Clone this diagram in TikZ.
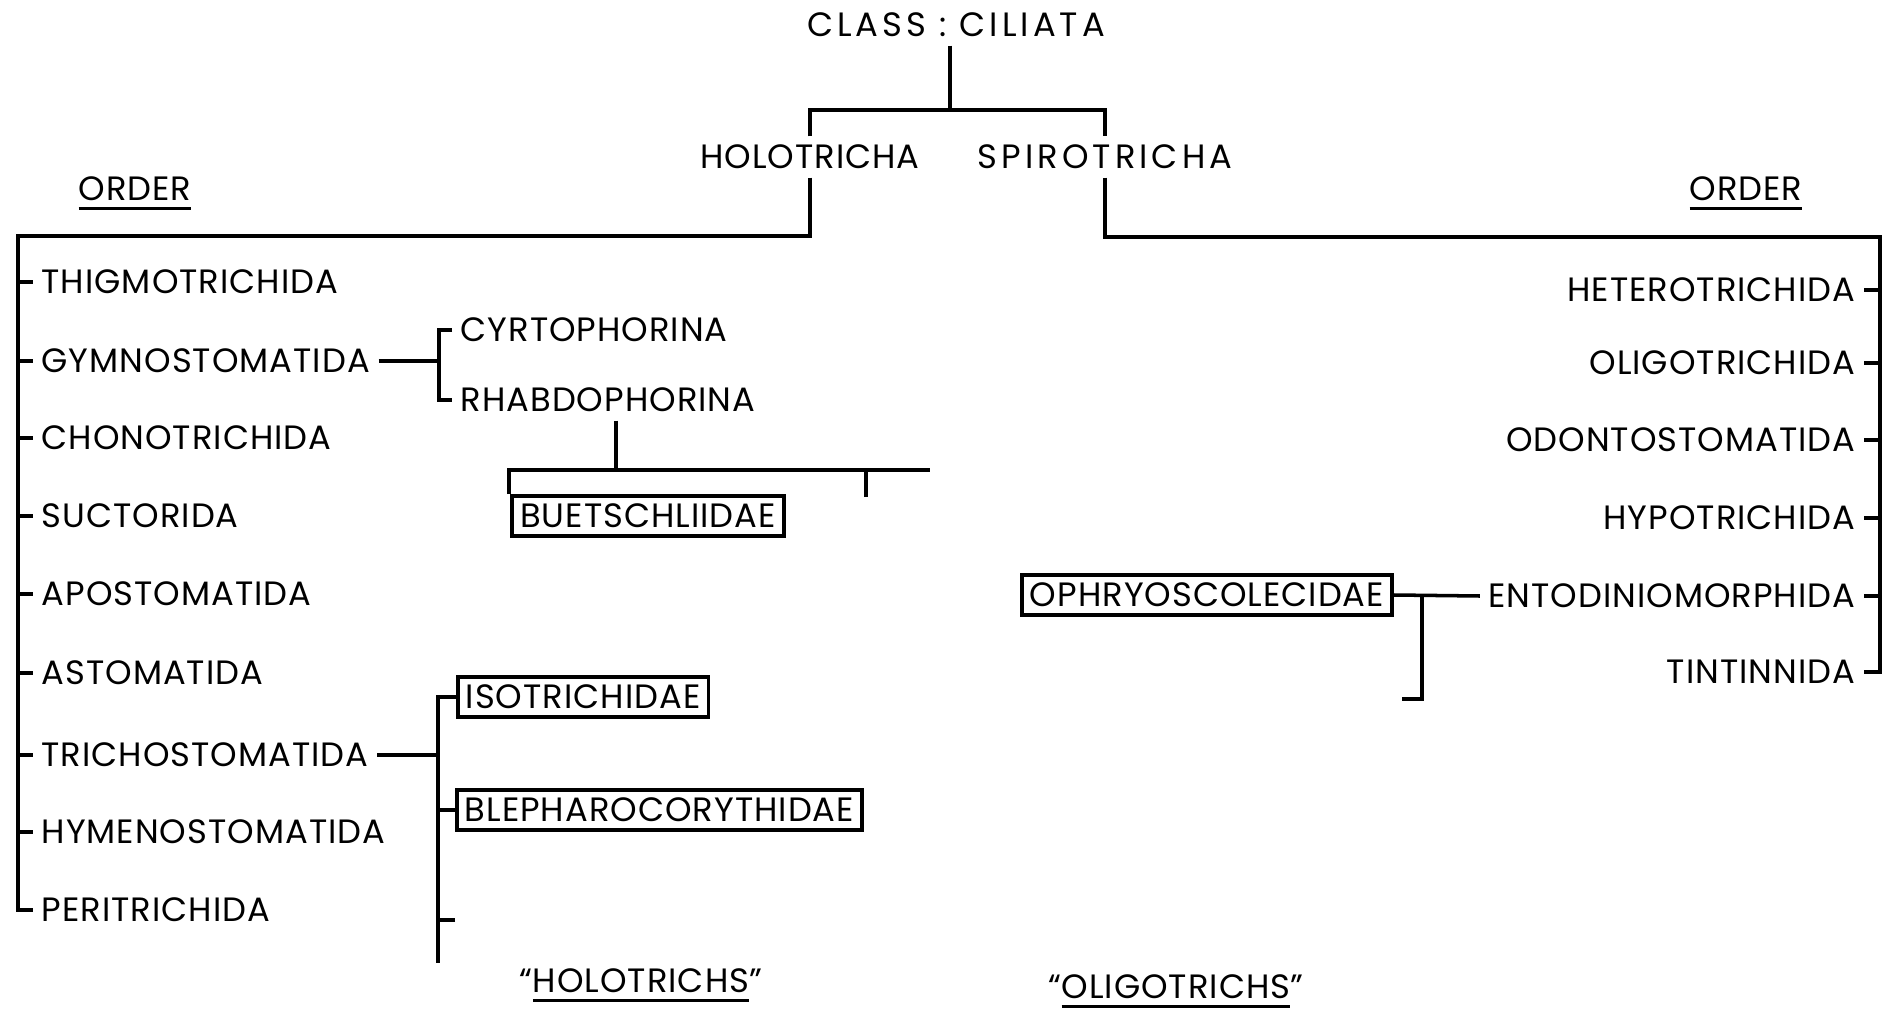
\documentclass[tikz,border=0pt]{standalone}
\usepackage{fontspec}
\setmainfont{Poppins}[LetterSpace=3]
\usetikzlibrary{positioning}
\newcommand{\lowul}[1]{\leavevmode\vtop{\hbox{#1}\kern1.8pt\hrule height 0.9pt}}

\begin{document}
\begin{tikzpicture}[
    x=0.01cm, y=-0.01cm,
    font=\fontsize{9.6}{11}\selectfont,
    txt/.style={inner sep=0.08cm},
    wide/.style={txt, font=\fontsize{9.6}{11}\selectfont\addfontfeatures{LetterSpace=12}},
    lft/.style={txt, anchor=west},
    rgt/.style={txt, anchor=east},
    fam/.style={draw, line width=1pt, inner sep=0.08cm},
    ln/.style={line width=1pt}
]
\useasboundingbox (0,0) rectangle (1887,1009);

% Class and subclasses
\node[wide] (class) at (956,25) {CLASS : CILIATA};
\node[txt] (holo) at (810,157) {HOLOTRICHA};
\node[wide] (spiro) at (1105,157) {SPIROTRICHA};
\coordinate (ctop) at (950,110);
\draw[ln] (ctop |- class.south) -- (ctop);
\draw[ln] (holo.north) |- (ctop) -| (spiro.north);

% Order headings
\node[txt, anchor=base] (ordL) at (135,200) {\lowul{ORDER}};
\node[txt, anchor=base] (ordR) at (1746,200) {\lowul{ORDER}};

% Holotrich orders
\node[lft] (thig) at (33,282) {THIGMOTRICHIDA};
\node[lft] (gymno) at (33,361) {GYMNOSTOMATIDA};
\node[lft] (chono) at (33,438) {CHONOTRICHIDA};
\node[lft] (suct) at (33,516) {SUCTORIDA};
\node[lft] (apost) at (33,594) {APOSTOMATIDA};
\node[lft] (astom) at (33,673) {ASTOMATIDA};
\node[lft] (trichos) at (33,755) {TRICHOSTOMATIDA};
\node[lft] (hymen) at (33,832) {HYMENOSTOMATIDA};
\node[lft] (perit) at (33,910) {PERITRICHIDA};
\coordinate (lbar) at (18,236);
\draw[ln] (holo.south) |- (lbar) -- (lbar |- perit.west) -- (perit.west);
\foreach \n in {thig,gymno,chono,suct,apost,astom,trichos,hymen}
    \draw[ln] (lbar |- \n.west) -- (\n.west);

% Spirotrich orders
\node[rgt] (hetero) at (1864,290) {HETEROTRICHIDA};
\node[rgt] (oligo) at (1864,363) {OLIGOTRICHIDA};
\node[rgt] (odonto) at (1864,440) {ODONTOSTOMATIDA};
\node[rgt] (hypo) at (1864,518) {HYPOTRICHIDA};
\node[rgt] (entod) at (1864,596) {ENTODINIOMORPHIDA};
\node[rgt] (tintin) at (1864,672) {TINTINNIDA};
\coordinate (rbar) at (1880,237);
\draw[ln] (spiro.south) |- (rbar) -- (rbar |- tintin.east) -- (tintin.east);
\foreach \n in {hetero,oligo,odonto,hypo,entod}
    \draw[ln] (rbar |- \n.east) -- (\n.east);

% Gymnostomatida suborders
\node[lft] (cyrto) at (452,330) {CYRTOPHORINA};
\node[lft] (rhabdo) at (452,400) {RHABDOPHORINA};
\coordinate (gbr) at (439,361);
\draw[ln] (gymno.east) -- (gbr);
\draw[ln] (cyrto.west) -| (gbr) |- (rhabdo.west);

% Buetschliidae
\node[fam] (buet) at (648,516) {BUETSCHLIIDAE};
\coordinate (rb) at (616,470);
\coordinate (rbL) at (509,470);
\coordinate (rbR) at (930,470);
\coordinate (rbT) at (866,497);
\draw[ln] (rb |- rhabdo.south) -- (rb);
\draw[ln] (rbL |- buet.north) -- (rbL) -- (rbR);
\draw[ln] (rbT) -- (rbT |- rbR);

% Trichostomatida families
\node[fam, anchor=west] (isot) at (456,697) {ISOTRICHIDAE};
\node[fam, anchor=west] (bleph) at (455,810) {BLEPHAROCORYTHIDAE};
\coordinate (tbr) at (438,755);
\coordinate (tbot) at (438,963);
\coordinate (ttk) at (455,920);
\draw[ln] (trichos.east) -- (tbr);
\draw[ln] (isot.west) -| (tbot);
\draw[ln] (bleph.west) -- (bleph.west -| tbot);
\draw[ln] (ttk) -- (ttk -| tbot);

% Ophryoscolecidae
\node[fam] (ophry) at (1207,595) {OPHRYOSCOLECIDAE};
\coordinate (obr) at (1422,699);
\coordinate (oend) at (1402,699);
\draw[ln] (ophry.east) -- (entod.west);
\draw[ln] (obr |- ophry.east) -- (obr) -- (oend);

% Groups
\node[txt, anchor=base] (holos) at (641,992) {``\lowul{HOLOTRICHS}''};
\node[txt, anchor=base] (oligos) at (1176,998) {``\lowul{OLIGOTRICHS}''};

\end{tikzpicture}
\end{document}
